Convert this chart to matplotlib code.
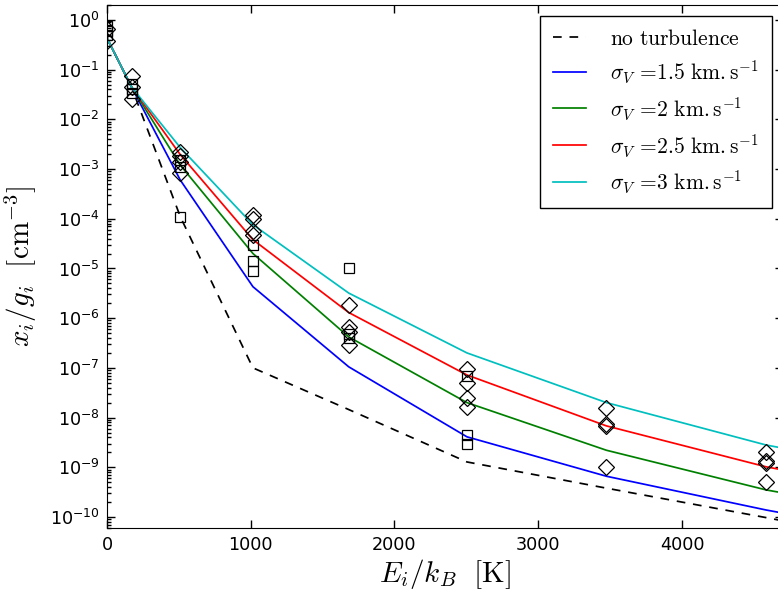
import numpy as np
import matplotlib
matplotlib.use('Agg')
import matplotlib.pyplot as plt
from matplotlib.font_manager import FontProperties
from matplotlib.ticker import LogLocator

plt.rcParams['axes.unicode_minus'] = False

# H2 rotational level energies E_i/k_B [K]
levels = [0, 170.5, 509.9, 1015.1, 1681.6, 2503.9, 3474.4, 4586.1, 5829.8]

# model curves x_i/g_i [cm^-3]
no_turb = [0.43, 0.045, 1.1e-4, 1.0e-7, 1.45e-8, 1.28e-9, 3.8e-10, 9.7e-11, 2e-11]
sig_15 = [0.43, 0.045, 6.0e-4, 4.3e-6, 1.05e-7, 4.1e-9, 6.6e-10, 1.38e-10, 3e-11]
sig_2 = [0.43, 0.045, 1.2e-3, 2.0e-5, 4.2e-7, 2.0e-8, 2.2e-9, 3.5e-10, 8e-11]
sig_25 = [0.43, 0.045, 1.95e-3, 3.8e-5, 1.3e-6, 7.2e-8, 6.8e-9, 1.02e-9, 2.2e-10]
sig_3 = [0.43, 0.045, 2.7e-3, 7.6e-5, 3.2e-6, 2.0e-7, 2.0e-8, 2.8e-9, 6e-10]

# observations (diamonds)
diam_E = [0, 0, 170.5, 170.5, 170.5,
          509.9, 509.9, 509.9, 509.9,
          1015.1, 1015.1, 1015.1, 1015.1,
          1681.6, 1681.6, 1681.6, 1681.6,
          2503.9, 2503.9, 2503.9, 2503.9,
          3474.4, 3474.4, 3474.4, 3474.4,
          4586.1, 4586.1, 4586.1, 4586.1]
diam_y = [0.65, 0.37, 0.073, 0.045, 0.026,
          2.2e-3, 1.8e-3, 1.4e-3, 8.5e-4,
          1.2e-4, 1.0e-4, 5.7e-5, 4.8e-5,
          1.8e-6, 6.6e-7, 5.2e-7, 2.9e-7,
          9.5e-8, 5.0e-8, 2.5e-8, 1.6e-8,
          1.55e-8, 7.4e-9, 6.8e-9, 1.0e-9,
          2.0e-9, 1.34e-9, 1.2e-9, 5.0e-10]

# observations (squares)
sq_E = [0, 0, 0, 170.5, 170.5, 170.5,
        509.9, 509.9, 509.9,
        1015.1, 1015.1, 1015.1,
        1681.6, 1681.6, 1681.6,
        2503.9, 2503.9, 2503.9]
sq_y = [0.75, 0.6, 0.5, 0.052, 0.04, 0.034,
        1.5e-3, 1.1e-3, 1.1e-4,
        2.9e-5, 1.4e-5, 8.9e-6,
        1.0e-5, 4.8e-7, 4.0e-7,
        7.0e-8, 4.4e-9, 2.9e-9]

fig = plt.figure(figsize=(7.78, 5.95), dpi=100)
ax = fig.add_axes([107/778, 67/595, 675.6/778, 523/595])

lw = 1.25
ax.plot(levels, no_turb, color='k', linestyle=(0, (5, 4.5)), linewidth=lw, label=r'$\mathrm{no\ turbulence}$')
ax.plot(levels, sig_15, color='b', linewidth=lw, label=r'$\sigma_V\,=\!1.5\ \mathrm{km{.}s^{-1}}$')
ax.plot(levels, sig_2, color='g', linewidth=lw, label=r'$\sigma_V\,=\!2\ \mathrm{km{.}s^{-1}}$')
ax.plot(levels, sig_25, color='r', linewidth=lw, label=r'$\sigma_V\,=\!2.5\ \mathrm{km{.}s^{-1}}$')
ax.plot(levels, sig_3, color='c', linewidth=lw, label=r'$\sigma_V\,=\!3\ \mathrm{km{.}s^{-1}}$')

ax.plot(diam_E, diam_y, linestyle='none', marker='D', markersize=8,
        markerfacecolor='none', markeredgecolor='k', markeredgewidth=0.9)
ax.plot(sq_E, sq_y, linestyle='none', marker='s', markersize=6.8,
        markerfacecolor='none', markeredgecolor='k', markeredgewidth=0.9)

ax.set_yscale('log')
ax.set_xlim(0, 4700)
ax.set_ylim(6e-11, 2)
ax.set_xticks([0, 1000, 2000, 3000, 4000])
ax.yaxis.set_major_locator(LogLocator(base=10, numticks=20))
ax.yaxis.set_minor_locator(LogLocator(base=10, subs=np.arange(2, 10), numticks=20))

ax.tick_params(which='both', direction='in', top=True, right=True, labelsize=12.7)
ax.tick_params(which='major', length=5.5, width=1)
ax.tick_params(which='minor', length=3, width=1)
ax.tick_params(axis='x', pad=6)
ax.tick_params(axis='y', pad=5)

ax.set_xlabel(r'$E_i/k_B\ \ [\mathrm{K}]$', fontsize=21, math_fontfamily='cm', labelpad=2)
ax.set_ylabel(r'$x_i/g_i\ \ [\mathrm{cm}^{-3}]$', fontsize=21, math_fontfamily='cm', labelpad=8)

leg_font = FontProperties(size=15.5, math_fontfamily='cm')
leg = ax.legend(loc='upper right', bbox_to_anchor=(772/778, 1 - 16/595),
                bbox_transform=fig.transFigure, borderaxespad=0, prop=leg_font,
                handlelength=1.55, handletextpad=1.1, borderpad=0.6,
                fancybox=False, framealpha=1, labelspacing=0.45)
leg.get_frame().set_edgecolor('k')
leg.get_frame().set_linewidth(1.0)

fig.savefig('out.png', dpi=100)
